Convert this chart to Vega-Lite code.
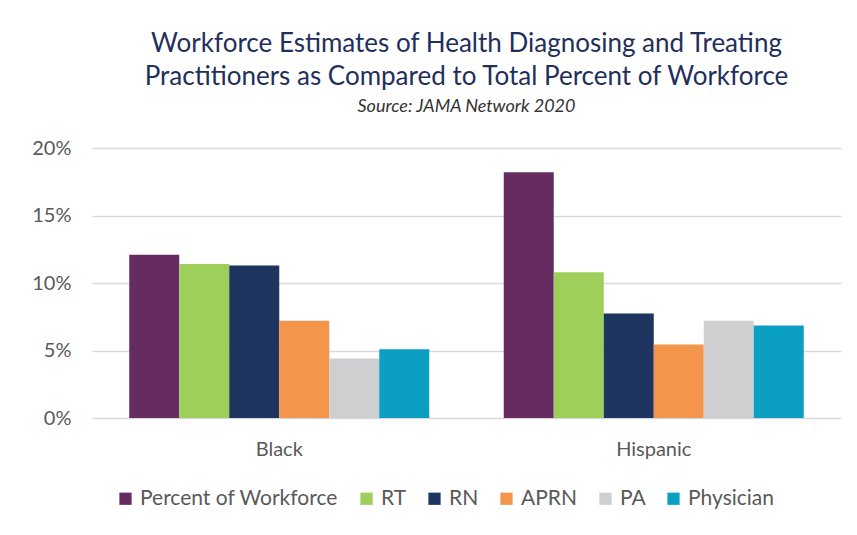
{
  "$schema": "https://vega.github.io/schema/vega-lite/v6.json",
  "width": 749,
  "height": 270,
  "padding": {"left": 31, "top": 31, "right": 15, "bottom": 10},
  "background": "white",
  "title": {
    "text": ["Workforce Estimates of Health Diagnosing and Treating", "Practitioners as Compared to Total Percent of Workforce"],
    "subtitle": "Source: JAMA Network 2020",
    "font": "Lato",
    "fontSize": 26,
    "fontWeight": "normal",
    "color": "#1F2F5C",
    "lineHeight": 33,
    "subtitleFont": "Lato",
    "subtitleFontSize": 18,
    "subtitleFontStyle": "italic",
    "subtitleColor": "#333333",
    "subtitlePadding": 8,
    "anchor": "middle",
    "offset": 22
  },
  "data": {
    "values": [
      {"group": "Black", "series": "Percent of Workforce", "value": 0.121},
      {"group": "Black", "series": "RT", "value": 0.114},
      {"group": "Black", "series": "RN", "value": 0.113},
      {"group": "Black", "series": "APRN", "value": 0.072},
      {"group": "Black", "series": "PA", "value": 0.044},
      {"group": "Black", "series": "Physician", "value": 0.051},
      {"group": "Hispanic", "series": "Percent of Workforce", "value": 0.182},
      {"group": "Hispanic", "series": "RT", "value": 0.108},
      {"group": "Hispanic", "series": "RN", "value": 0.0775},
      {"group": "Hispanic", "series": "APRN", "value": 0.0545},
      {"group": "Hispanic", "series": "PA", "value": 0.072},
      {"group": "Hispanic", "series": "Physician", "value": 0.0685}
    ]
  },
  "mark": {"type": "bar"},
  "encoding": {
    "x": {
      "field": "group",
      "type": "nominal",
      "scale": {"paddingInner": 0, "paddingOuter": 0},
      "axis": {
        "title": null,
        "labelAngle": 0,
        "labelFont": "Lato",
        "labelFontSize": 20,
        "labelColor": "#595959",
        "labelPadding": 21,
        "ticks": false,
        "domain": false
      }
    },
    "xOffset": {
      "field": "series",
      "type": "nominal",
      "sort": ["Percent of Workforce", "RT", "RN", "APRN", "PA", "Physician"],
      "scale": {"paddingInner": 0, "paddingOuter": 0.745}
    },
    "y": {
      "field": "value",
      "type": "quantitative",
      "scale": {"domain": [0, 0.2]},
      "axis": {
        "title": null,
        "format": ".0%",
        "values": [0, 0.05, 0.1, 0.15, 0.2],
        "labelFont": "Lato",
        "labelFontSize": 20,
        "labelColor": "#595959",
        "labelPadding": 21,
        "ticks": false,
        "domain": false,
        "gridColor": "#D9D9D9",
        "gridWidth": 1.5
      }
    },
    "color": {
      "field": "series",
      "type": "nominal",
      "sort": ["Percent of Workforce", "RT", "RN", "APRN", "PA", "Physician"],
      "scale": {
        "domain": ["Percent of Workforce", "RT", "RN", "APRN", "PA", "Physician"],
        "range": ["#662C62", "#9FCF5B", "#1D355F", "#F4954C", "#CFCFD1", "#0B9FC3"]
      },
      "legend": {
        "title": null,
        "orient": "none",
        "legendX": 23,
        "legendY": 340,
        "direction": "horizontal",
        "symbolType": "square",
        "symbolSize": 150,
        "symbolStrokeWidth": 0,
        "labelFont": "Lato",
        "labelFontSize": 21,
        "labelColor": "#595959",
        "labelLimit": 0,
        "columnPadding": 17
      }
    }
  },
  "config": {
    "view": {"stroke": null}
  }
}
